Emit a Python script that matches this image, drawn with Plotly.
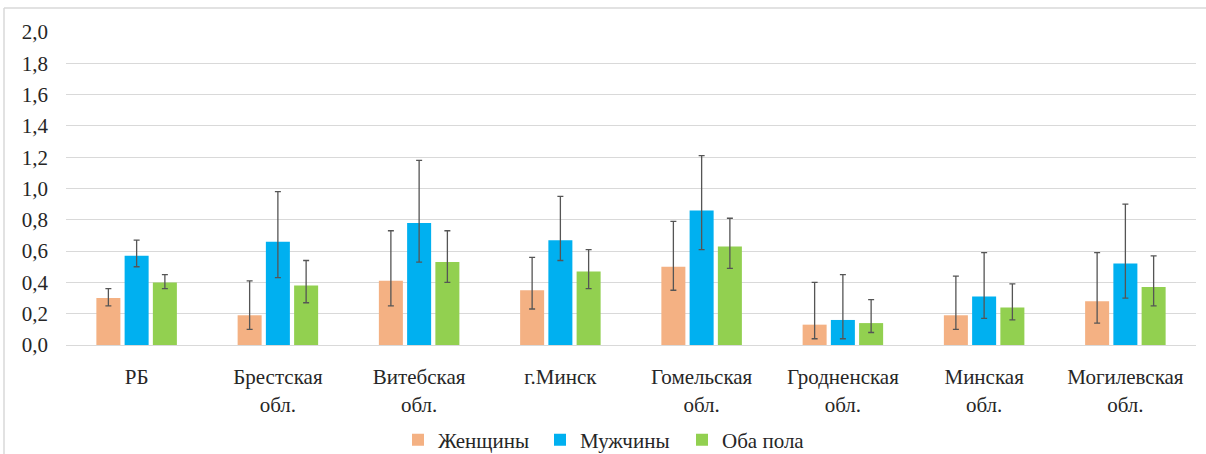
import plotly.graph_objects as go

categories = ["РБ", "Брестская<br>обл.", "Витебская<br>обл.", "г.Минск", "Гомельская<br>обл.",
              "Гродненская<br>обл.", "Минская<br>обл.", "Могилевская<br>обл."]

women = [0.30, 0.19, 0.41, 0.35, 0.50, 0.13, 0.19, 0.28]
women_hi = [0.36, 0.41, 0.73, 0.56, 0.79, 0.40, 0.44, 0.59]
women_lo = [0.25, 0.10, 0.25, 0.23, 0.35, 0.04, 0.10, 0.14]

men = [0.57, 0.66, 0.78, 0.67, 0.86, 0.16, 0.31, 0.52]
men_hi = [0.67, 0.98, 1.18, 0.95, 1.21, 0.45, 0.59, 0.90]
men_lo = [0.50, 0.43, 0.53, 0.54, 0.61, 0.04, 0.17, 0.30]

both = [0.40, 0.38, 0.53, 0.47, 0.63, 0.14, 0.24, 0.37]
both_hi = [0.45, 0.54, 0.73, 0.61, 0.81, 0.29, 0.39, 0.57]
both_lo = [0.36, 0.27, 0.40, 0.36, 0.49, 0.08, 0.16, 0.25]

series = [
    ("Женщины", women, women_hi, women_lo, "#F4B183"),
    ("Мужчины", men, men_hi, men_lo, "#00B0F0"),
    ("Оба пола", both, both_hi, both_lo, "#92D050"),
]

FONT = "Times New Roman, Liberation Serif, Tinos, DejaVu Serif, serif"

fig = go.Figure()
for name, vals, hi, lo, color in series:
    fig.add_trace(go.Bar(
        x=categories, y=vals, name=name,
        marker=dict(color=color, line=dict(width=0)),
        error_y=dict(type="data", symmetric=False,
                     array=[h - v for h, v in zip(hi, vals)],
                     arrayminus=[v - l for l, v in zip(lo, vals)],
                     color="#555555", thickness=1.3, width=3),
    ))

fig.update_layout(
    width=1206, height=454,
    margin=dict(l=66, r=10, t=32, b=109, autoexpand=False),
    paper_bgcolor="white", plot_bgcolor="white",
    barmode="group", bargap=0.4, bargroupgap=0.15,
    separators=", ",
    font=dict(family=FONT, size=21, color="#262626"),
    showlegend=True,
    legend=dict(orientation="h", x=(398 - 66) / 1130, xanchor="left",
                yref="container", y=1 - 440 / 454, yanchor="middle",
                font=dict(family=FONT, size=21, color="#262626"),
                itemwidth=30, entrywidth=97, tracegroupgap=0),
    shapes=[
        dict(type="line", xref="paper", yref="paper", x0=(4 - 66) / 1130, x1=1.02,
             y0=1 + 24 / 313, y1=1 + 24 / 313, line=dict(color="#D9D9D9", width=1.5)),
        dict(type="line", xref="paper", yref="paper", x0=(4 - 66) / 1130, x1=(4 - 66) / 1130,
             y0=1 + 24 / 313, y1=-0.36, line=dict(color="#D9D9D9", width=1.5)),
    ],
)
fig.update_yaxes(range=[0, 2.0], dtick=0.2, tickformat=".1f", showgrid=True,
                 gridcolor="#D9D9D9", gridwidth=1, zeroline=False, showline=False,
                 ticks="", ticklabelstandoff=17, tickfont=dict(size=21, family=FONT))
fig.update_xaxes(showline=True, linecolor="#D9D9D9", linewidth=1, ticks="",
                 tickfont=dict(size=21, family=FONT), ticklabelstandoff=13)

fig.write_html("out.html", config={"displayModeBar": False},
               post_script="document.body.style.margin='0';document.body.style.padding='0';")
